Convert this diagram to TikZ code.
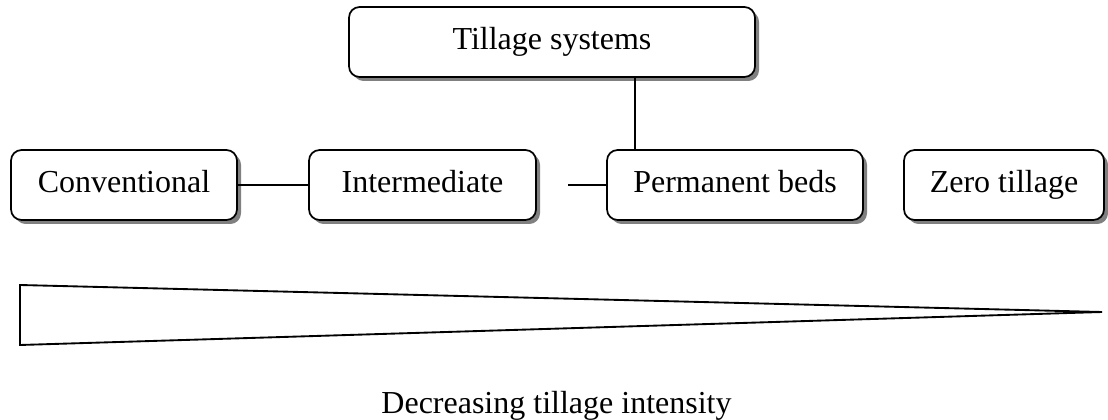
\documentclass[tikz,border=0pt]{standalone}
\usepackage{fontspec}
\setmainfont{Liberation Serif}
\usetikzlibrary{shadows}
\begin{document}
\begin{tikzpicture}[x=0.75pt,y=-0.75pt,
  box/.style={draw=black, line width=1.3pt, fill=white, rounded corners=8pt,
    inner sep=0pt, minimum height=52.5pt, text height=16pt, text depth=4pt,
    font=\fontsize{24}{28}\selectfont,
    drop shadow={shadow xshift=3pt, shadow yshift=-3pt, fill=black!50, opacity=1}},
  link/.style={draw=black, line width=1pt},
  wedge/.style={draw=black, line width=1.4pt, line join=miter}]
\useasboundingbox (0,0) rectangle (1108,420);
\node[box, minimum width=304.5pt] (till) at (552,42) {Tillage systems};
\node[box, minimum width=169.5pt] (conv) at (124,185) {Conventional};
\node[box, minimum width=170.25pt] (inter) at (422.5,185) {Intermediate};
\node[box, minimum width=192pt] (perm) at (735,185) {Permanent beds};
\node[box, minimum width=150pt] (zero) at (1004,185) {Zero tillage};
\coordinate (vx) at (635,0);
\coordinate (stub) at (568,185);
\draw[link] (till.south -| vx) -- (perm.north -| vx);
\draw[link] (conv.east) -- (inter.west);
\draw[link] (stub) -- (perm.west);
\coordinate (t1) at (20,285);
\coordinate (t2) at (1102,312);
\coordinate (t3) at (20,345);
\draw[wedge] (t1) -- (t2) -- (t3) -- cycle;
\node[anchor=base, inner sep=0pt, font=\fontsize{24}{28}\selectfont] (lab) at (556.5,414) {Decreasing tillage intensity};
\end{tikzpicture}
\end{document}
